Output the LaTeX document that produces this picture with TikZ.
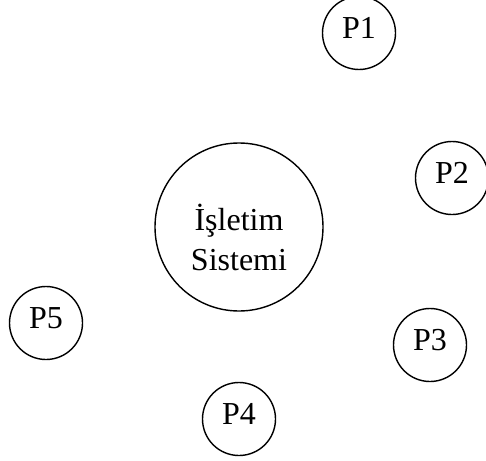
\documentclass[tikz,border=0pt]{standalone}
\usepackage{fontspec}
\setmainfont{Liberation Serif}
\usepackage{tikz}

\begin{document}
\begin{tikzpicture}[x=0.5pt,y=-0.5pt,
    surec/.style={circle, draw, line width=0.7pt, minimum size=36.5pt, inner sep=0pt},
    isletim/.style={circle, draw, line width=0.7pt, minimum size=84pt, inner sep=0pt}]
    \fontsize{16}{20}\selectfont
    \useasboundingbox (0,0) rectangle (486,460);
    % Isletim sistemi
    \node[isletim] (os) at (239,227) {};
    \node[align=center, yshift=-5pt] at (os) {İşletim\\Sistemi};
    % Surecler
    \foreach \ad/\x/\y in {p1/359/33, p2/452/178, p3/430/345, p4/239/419, p5/46/323} {
        \node[surec] (\ad) at (\x,\y) {};
    }
    \node[yshift=2.5pt] at (p1) {P1};
    \node[yshift=2.5pt] at (p2) {P2};
    \node[yshift=2.5pt] at (p3) {P3};
    \node[yshift=2.5pt] at (p4) {P4};
    \node[yshift=2.5pt] at (p5) {P5};
\end{tikzpicture}
\end{document}
